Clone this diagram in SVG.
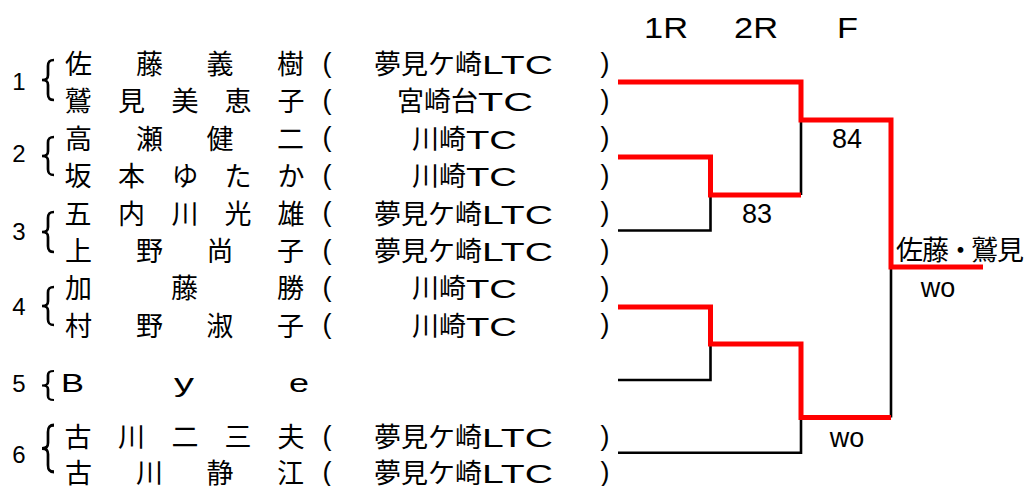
<svg xmlns="http://www.w3.org/2000/svg" width="1031" height="486" viewBox="0 0 1031 486">
<style>
.jp{font-family:"Noto Sans CJK JP","Noto Sans CJK SC",sans-serif;font-size:27px;fill:#000}
.lat{font-family:"Liberation Sans",Arial,sans-serif;fill:#000}
.num{font-family:"Liberation Sans",Arial,sans-serif;font-size:24px;fill:#000;text-anchor:middle}
.par{font-family:"Liberation Sans",Arial,sans-serif;font-size:27px;fill:#000;text-anchor:middle}
.nm{text-anchor:middle}
.lbl{font-family:"Liberation Sans",Arial,sans-serif;font-size:27px;fill:#000;text-anchor:middle}
.hd{font-family:"Liberation Sans",Arial,sans-serif;font-size:29px;fill:#000}
.brace{stroke:#000;stroke-width:2.7;fill:none}
.blk{stroke:#000;stroke-width:2.6;fill:none}
.red{stroke:#ff0000;stroke-width:5;fill:none;stroke-linejoin:miter}
</style>
<defs>
<path id="br" d="M11,-20 C6,-20 5,-18 5,-14 V-5 C5,-2 4,0 -1,0 C4,0 5,2 5,5 V14 C5,18 6,20 11,20"/>
</defs>

<g id="header">
<text class="hd" x="644" y="38" textLength="44" lengthAdjust="spacingAndGlyphs">1R</text>
<text class="hd" x="734" y="38" textLength="44" lengthAdjust="spacingAndGlyphs">2R</text>
<text class="hd" x="837" y="38" textLength="21" lengthAdjust="spacingAndGlyphs">F</text>
</g>

<g id="entry1">
<text class="num" x="19" y="90">1</text>
<use href="#br" class="brace" transform="translate(43,80)"/>
<text class="jp nm" x="78.5 149.5 220 290.5" y="74">佐藤義樹</text>
<text class="par" x="327" y="71.5">(</text>
<text class="jp" x="374" y="74">夢見ケ崎<tspan class="lat" font-size="25" textLength="71" lengthAdjust="spacingAndGlyphs">LTC</tspan></text>
<text class="par" x="605" y="71.5">)</text>
<text class="jp nm" x="78 131.5 185 238 291" y="111">鷲見美恵子</text>
<text class="par" x="327" y="108.5">(</text>
<text class="jp" x="397" y="111">宮崎台<tspan class="lat" font-size="25" textLength="55" lengthAdjust="spacingAndGlyphs">TC</tspan></text>
<text class="par" x="605" y="108.5">)</text>
</g>

<g id="entry2">
<text class="num" x="19" y="162">2</text>
<use href="#br" class="brace" transform="translate(43,156) scale(1,0.95)"/>
<text class="jp nm" x="78.5 149.5 220 290.5" y="149">高瀬健二</text>
<text class="par" x="327" y="146">(</text>
<text class="jp" x="412" y="149">川崎<tspan class="lat" font-size="25" textLength="51" lengthAdjust="spacingAndGlyphs">TC</tspan></text>
<text class="par" x="605" y="146">)</text>
<text class="jp nm" x="78 131.5 185 238 291" y="186">坂本ゆたか</text>
<text class="par" x="327" y="183.5">(</text>
<text class="jp" x="412" y="186">川崎<tspan class="lat" font-size="25" textLength="51" lengthAdjust="spacingAndGlyphs">TC</tspan></text>
<text class="par" x="605" y="183.5">)</text>
</g>

<g id="entry3">
<text class="num" x="19" y="240">3</text>
<use href="#br" class="brace" transform="translate(43,232)"/>
<text class="jp nm" x="78 131.5 185 238 291" y="224">五内川光雄</text>
<text class="par" x="327" y="221">(</text>
<text class="jp" x="374" y="224">夢見ケ崎<tspan class="lat" font-size="25" textLength="71" lengthAdjust="spacingAndGlyphs">LTC</tspan></text>
<text class="par" x="605" y="221">)</text>
<text class="jp nm" x="78.5 149.5 220 290.5" y="261">上野尚子</text>
<text class="par" x="327" y="258.5">(</text>
<text class="jp" x="374" y="261">夢見ケ崎<tspan class="lat" font-size="25" textLength="71" lengthAdjust="spacingAndGlyphs">LTC</tspan></text>
<text class="par" x="605" y="258.5">)</text>
</g>

<g id="entry4">
<text class="num" x="19" y="315">4</text>
<use href="#br" class="brace" transform="translate(43,306) scale(1,0.95)"/>
<text class="jp nm" x="78.5 184.5 290.5" y="298">加藤勝</text>
<text class="par" x="327" y="295.5">(</text>
<text class="jp" x="412" y="298">川崎<tspan class="lat" font-size="25" textLength="51" lengthAdjust="spacingAndGlyphs">TC</tspan></text>
<text class="par" x="605" y="295.5">)</text>
<text class="jp nm" x="78.5 149.5 220 290.5" y="336">村野淑子</text>
<text class="par" x="327" y="333">(</text>
<text class="jp" x="412" y="336">川崎<tspan class="lat" font-size="25" textLength="51" lengthAdjust="spacingAndGlyphs">TC</tspan></text>
<text class="par" x="605" y="333">)</text>
</g>

<g id="entry5">
<text class="num" x="19" y="392">5</text>
<use href="#br" class="brace" transform="translate(43,385.5) scale(1,0.73)"/>
<text class="lat" font-size="25" y="392"><tspan x="61" textLength="23" lengthAdjust="spacingAndGlyphs">B</tspan><tspan x="174" textLength="20" lengthAdjust="spacingAndGlyphs">y</tspan><tspan x="289" textLength="20" lengthAdjust="spacingAndGlyphs">e</tspan></text>
</g>

<g id="entry6">
<text class="num" x="19" y="463">6</text>
<use href="#br" class="brace" transform="translate(43,448.5) scale(1,1.17)"/>
<text class="jp nm" x="78 131.5 185 238 291" y="447">古川二三夫</text>
<text class="par" x="327" y="444.5">(</text>
<text class="jp" x="374" y="447">夢見ケ崎<tspan class="lat" font-size="25" textLength="71" lengthAdjust="spacingAndGlyphs">LTC</tspan></text>
<text class="par" x="605" y="444.5">)</text>
<text class="jp nm" x="78.5 149.5 220 290.5" y="483">古川静江</text>
<text class="par" x="327" y="480.5">(</text>
<text class="jp" x="374" y="483">夢見ケ崎<tspan class="lat" font-size="25" textLength="71" lengthAdjust="spacingAndGlyphs">LTC</tspan></text>
<text class="par" x="605" y="480.5">)</text>
</g>

<g id="connectors">
<path class="blk" d="M618,230.5 H710.5 V195"/>
<path class="blk" d="M618,380 H710.5 V344"/>
<path class="blk" d="M801,120 V195"/>
<path class="blk" d="M618,452.7 H801 V417.5"/>
<path class="blk" d="M891,267 V417.5"/>
<path class="red" d="M618,82 H801 V120 H891 V267 H983"/>
<path class="red" d="M618,157 H710.5 V195 H801"/>
<path class="red" d="M618,307 H710.5 V344 H801 V417.5 H891"/>
</g>

<g id="results">
<text class="lbl" x="847" y="148">84</text>
<text class="lbl" x="757" y="223">83</text>
<text class="lbl" x="847" y="447">wo</text>
<text class="lbl" x="938" y="297">wo</text>
<text class="jp" font-size="25.5" x="896 922 947 971 997" y="260">佐藤・鷲見</text>
</g>
</svg>
